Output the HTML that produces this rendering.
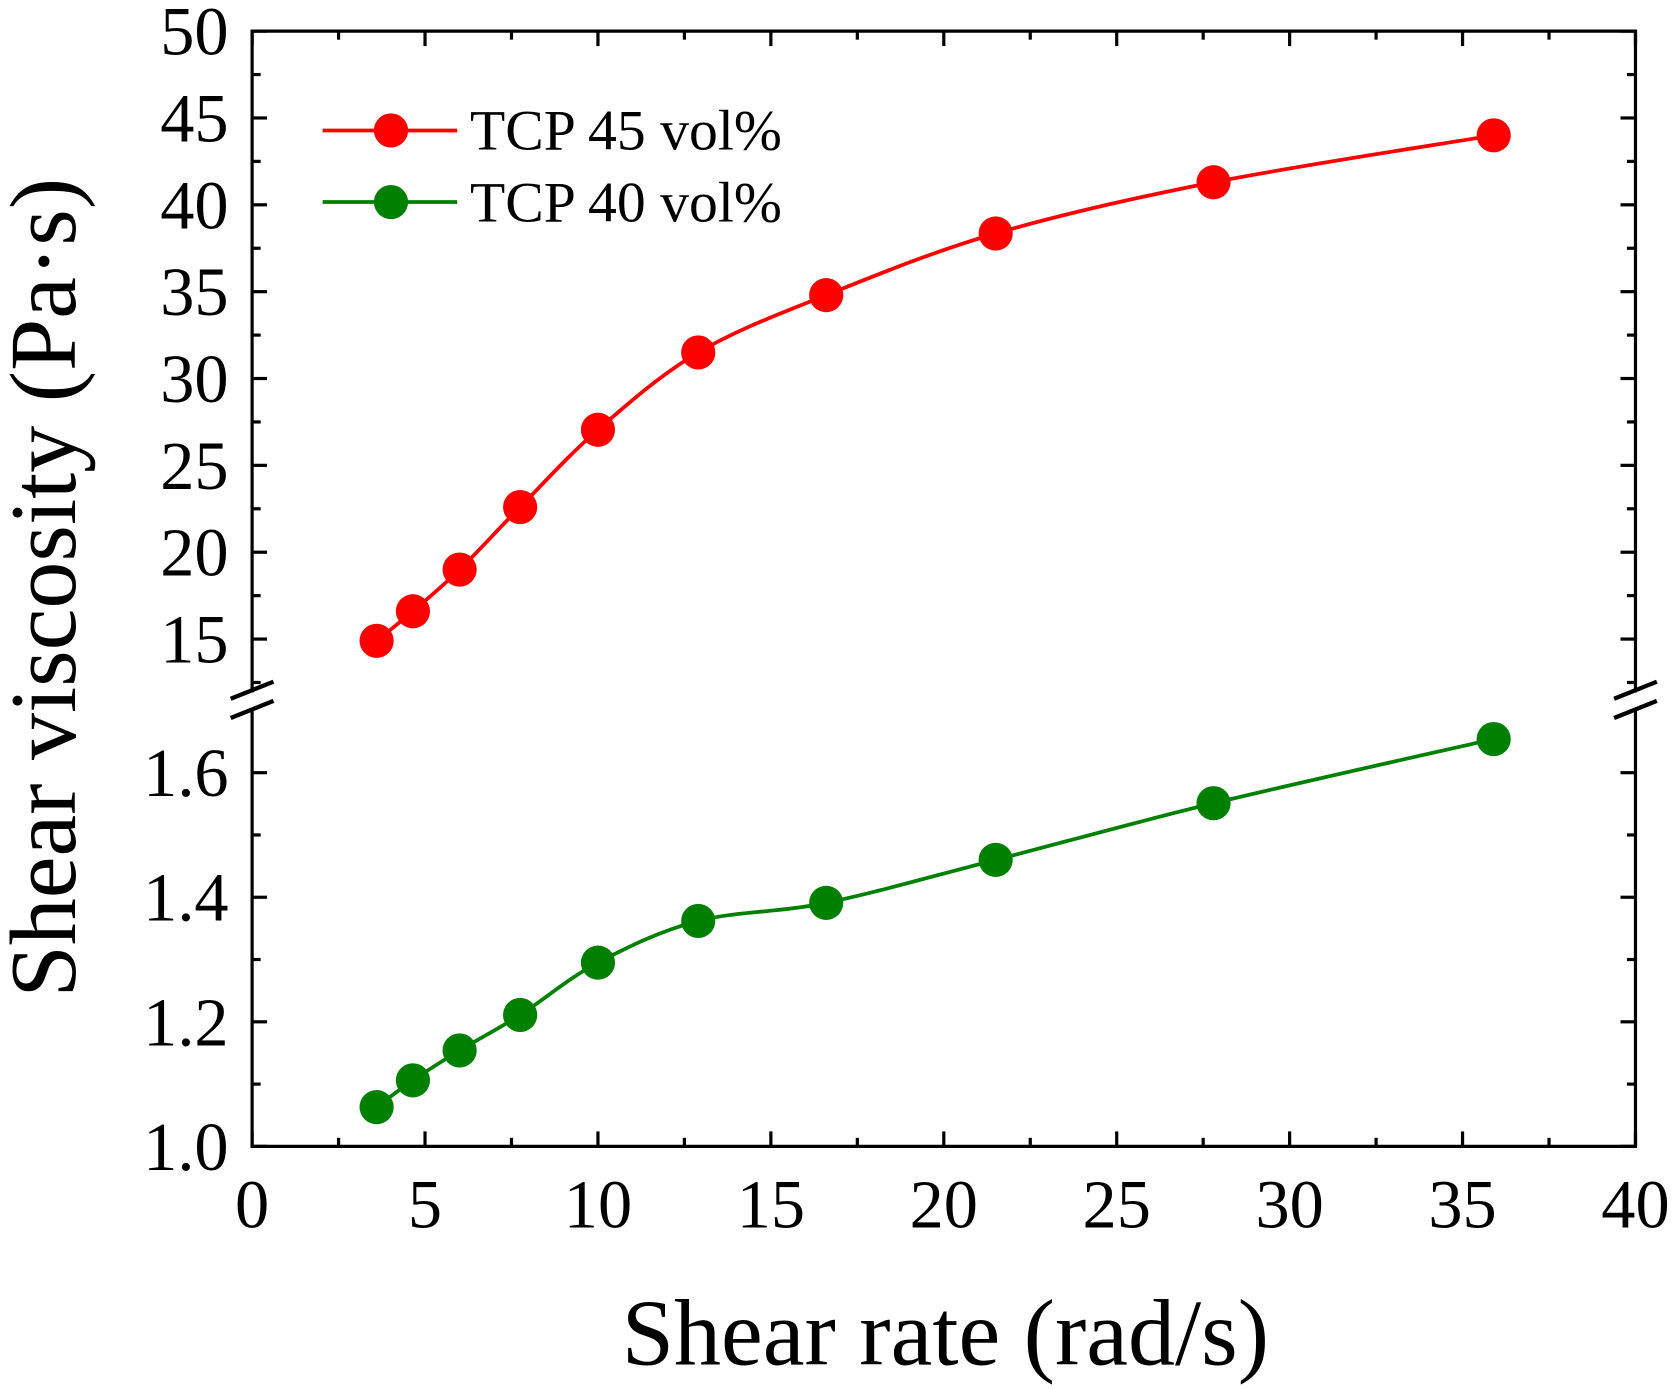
<!DOCTYPE html>
<html><head><meta charset="utf-8"><style>
html,body{margin:0;padding:0;background:#fff}
svg{display:block}
text{font-family:"Liberation Serif",serif;fill:#000}
</style></head><body>
<svg id="chart" width="1675" height="1389" viewBox="0 0 1568 1300" xmlns="http://www.w3.org/2000/svg">
<g id="g"></g>
</svg>
<script>
const xValues=[3.6,4.65,6.0,7.75,10.0,12.9,16.6,21.5,27.8,35.9];
const red45=[14.9,16.6,19.0,22.6,27.05,31.5,34.8,38.35,41.3,44.0];
const green40=[1.063,1.106,1.154,1.211,1.295,1.362,1.391,1.46,1.551,1.654];
const xTicks=[0,5,10,15,20,25,30,35,40];
const yUpperTicks=[15,20,25,30,35,40,45,50];
const yLowerTicks=["1.0","1.2","1.4","1.6"];
const seriesNames=["TCP 45 vol%","TCP 40 vol%"];

const NS="http://www.w3.org/2000/svg";
const g=document.getElementById('g');
const L=236,R=1531,T=29,B=1073,UB=648,LT=664;
const X=v=>L+(v-0)/40*(R-L);
const YU=v=>T+(50-v)*16.26;
const YL=v=>B-(v-1.0)*583;
function el(tag,attrs,parent){const e=document.createElementNS(NS,tag);for(const k in attrs)e.setAttribute(k,attrs[k]);(parent||g).appendChild(e);return e;}

let e;
e=el('path',{d:`M${L},${UB} V${T} H${R} V${UB}`,fill:'none',stroke:'#000','stroke-width':3});


e=el('path',{d:`M${L},${LT} V${B} H${R} V${LT}`,fill:'none',stroke:'#000','stroke-width':3});


[L,R].forEach(x=>{[646,664].forEach(y=>{
 e=el('line',{x1:x-20,y1:y+8,x2:x+20,y2:y-8,stroke:'#000','stroke-width':4});
 
 
});});

for(let v=0;v<=40;v+=2.5){const x=X(v);const len=(v%5===0)?14:8;
 el('line',{x1:x,y1:B,x2:x,y2:B-len,stroke:'#000','stroke-width':3});
 el('line',{x1:x,y1:T,x2:x,y2:T+len,stroke:'#000','stroke-width':3});}
xTicks.forEach(v=>{e=el('text',{x:X(v),y:1149,'font-size':64,'text-anchor':'middle'});e.textContent=v;
 
 });
for(let v=12.5;v<=50;v+=2.5){const y=YU(v);const len=(v%5===0)?14:8;
 el('line',{x1:L,y1:y,x2:L+len,y2:y,stroke:'#000','stroke-width':3});
 el('line',{x1:R,y1:y,x2:R-len,y2:y,stroke:'#000','stroke-width':3});}
yUpperTicks.forEach(v=>{e=el('text',{x:214,y:YU(v)+22,'font-size':64,'text-anchor':'end'});e.textContent=v;
 
 });
for(let i=0;i<=6;i++){const v=1+i*0.1;const y=YL(v);const len=(i%2===0)?14:8;
 el('line',{x1:L,y1:y,x2:L+len,y2:y,stroke:'#000','stroke-width':3});
 el('line',{x1:R,y1:y,x2:R-len,y2:y,stroke:'#000','stroke-width':3});}
yLowerTicks.forEach(s=>{e=el('text',{x:214,y:YL(parseFloat(s))+22,'font-size':64,'text-anchor':'end'});e.textContent=s;
 
 });

function smooth(pts){let d=`M${pts[0][0]},${pts[0][1]}`;
 for(let i=0;i<pts.length-1;i++){const p0=pts[i-1]||pts[i],p1=pts[i],p2=pts[i+1],p3=pts[i+2]||p2;
  const c1=[p1[0]+(p2[0]-p0[0])/6,p1[1]+(p2[1]-p0[1])/6],c2=[p2[0]-(p3[0]-p1[0])/6,p2[1]-(p3[1]-p1[1])/6];
  d+=` C${c1[0]},${c1[1]} ${c2[0]},${c2[1]} ${p2[0]},${p2[1]}`;}return d;}
function series(vals,Y,color,name){
 const pts=xValues.map((x,i)=>[X(x),Y(vals[i])]);
 let p=el('path',{d:smooth(pts),fill:'none',stroke:color,'stroke-width':3.5});
 
 
 pts.forEach(q=>{let c=el('circle',{cx:q[0],cy:q[1],r:16,fill:color});
  
  });
}
series(red45,YU,'#ff0000','tcp45');
series(green40,YL,'#008000','tcp40');

[['#ff0000',122],['#008000',189]].forEach((c,i)=>{
 e=el('line',{x1:302,y1:c[1],x2:428,y2:c[1],stroke:c[0],'stroke-width':3.5});
 
 
 e=el('circle',{cx:366,cy:c[1],r:16,fill:c[0]});
 
 
 e=el('text',{x:440,y:c[1]+18,'font-size':54});e.textContent=seriesNames[i];
 
 
});

e=el('text',{x:885,y:1277,'font-size':88,'text-anchor':'middle'});e.textContent='Shear rate (rad/s)';


e=el('text',{x:0,y:0,'font-size':88,'text-anchor':'middle',transform:'translate(70,550) rotate(-90)'});e.textContent='Shear viscosity (Pa·s)';


</script>
</body></html>
